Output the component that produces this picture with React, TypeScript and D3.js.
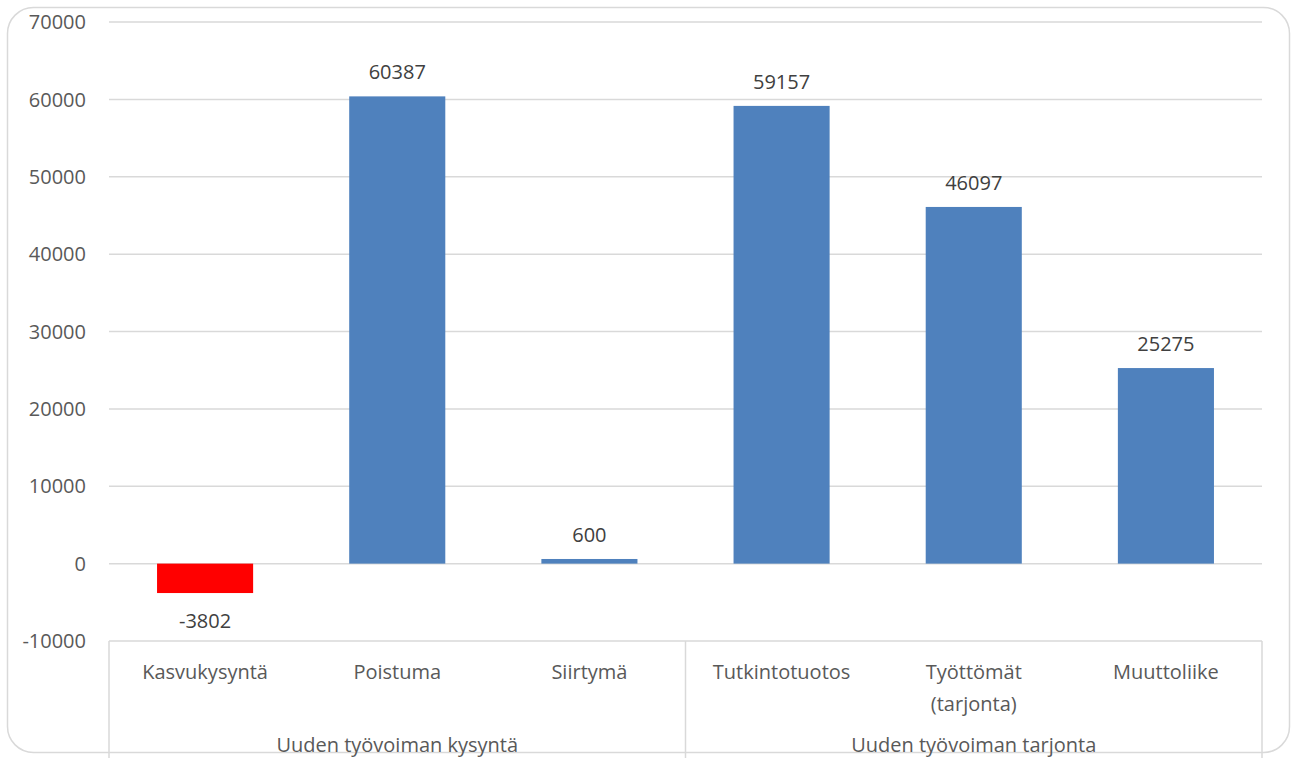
import React from "react";
import * as d3 from "d3";

const categories = ["Kasvukysyntä", "Poistuma", "Siirtymä", "Tutkintotuotos", "Työttömät\n(tarjonta)", "Muuttoliike"];
const values = [-3802, 60387, 600, 59157, 46097, 25275];
const groups = ["Uuden työvoiman kysyntä", "Uuden työvoiman tarjonta"];
const groupSizes = [3, 3];
const yTicks = [-10000, 0, 10000, 20000, 30000, 40000, 50000, 60000, 70000];

const W = 1291, H = 758;
const left = 109, right = 1262, top = 22, bottom = 641;
const FONT = "'Open Sans', sans-serif";

export default function App() {
  const y = d3.scaleLinear().domain([-10000, 70000]).range([bottom, top]);
  const x = d3.scaleBand().domain(categories).range([left, right]).paddingInner(0.5).paddingOuter(0.25);
  const band = (right - left) / categories.length;
  const boundaries: number[] = [left];
  let acc = 0;
  groupSizes.forEach((s) => { acc += s; boundaries.push(left + acc * band); });
  return (
    <svg width={W} height={H} style={{ position: "absolute", left: 0, top: 0 }} fontFamily={FONT}>
      <rect x={0} y={0} width={W} height={H} fill="#fff" />
      <rect x={7.5} y={7.5} width={1282} height={745} rx={26} ry={26} fill="#fff" stroke="#d9d9d9" strokeWidth={1.5} />
      {yTicks.map((t) => (
        <g key={t}>
          <line x1={left} x2={right} y1={y(t)} y2={y(t)} stroke="#d9d9d9" strokeWidth={1.5} />
          <text x={86} y={y(t)} dy="0.36em" textAnchor="end" fontSize={20} fill="#595959">{t}</text>
        </g>
      ))}
      {categories.map((c, i) => {
        const v = values[i];
        const y0 = y(0), y1 = y(v);
        return (
          <g key={c}>
            <rect x={x(c)!} width={x.bandwidth()} y={Math.min(y0, y1)} height={Math.abs(y1 - y0)} fill={v < 0 ? "#ff0000" : "#4f81bd"} />
            <text x={x(c)! + x.bandwidth() / 2} y={v < 0 ? y1 + 35 : y1 - 17} textAnchor="middle" fontSize={20} fill="#404040">{v}</text>
          </g>
        );
      })}
      {boundaries.map((b, i) => (
        <line key={i} x1={b} x2={b} y1={bottom} y2={H} stroke="#d9d9d9" strokeWidth={1.5} />
      ))}
      {categories.map((c) => {
        const lines = c.split("\n");
        return (
          <text key={c} x={x(c)! + x.bandwidth() / 2} y={679} textAnchor="middle" fontSize={20} fill="#595959">
            {lines.map((l, j) => (
              <tspan key={j} x={x(c)! + x.bandwidth() / 2} dy={j === 0 ? 0 : 32}>{l}</tspan>
            ))}
          </text>
        );
      })}
      {groups.map((g, i) => (
        <text key={g} x={(boundaries[i] + boundaries[i + 1]) / 2} y={752} textAnchor="middle" fontSize={20} fill="#595959">{g}</text>
      ))}
    </svg>
  );
}
